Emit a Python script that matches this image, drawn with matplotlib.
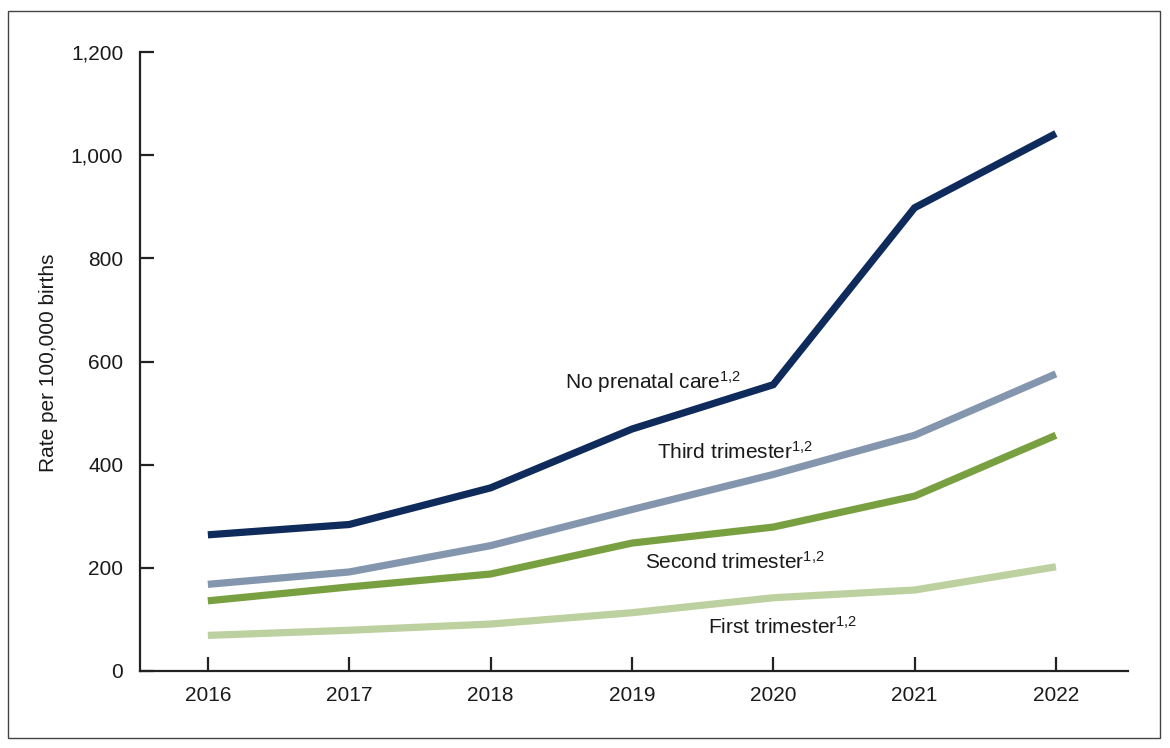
import matplotlib
matplotlib.use("Agg")
import matplotlib.pyplot as plt
from matplotlib.patches import Rectangle

plt.rcParams['font.family'] = ['Liberation Sans', 'DejaVu Sans']
plt.rcParams['mathtext.fontset'] = 'custom'
plt.rcParams['mathtext.rm'] = 'Liberation Sans'
plt.rcParams['mathtext.it'] = 'Liberation Sans'
plt.rcParams['mathtext.default'] = 'rm'

years = [2016, 2017, 2018, 2019, 2020, 2021, 2022]
no_prenatal = [264, 284, 355, 469, 555, 898, 1042]
third_tri = [168, 192, 243, 313, 381, 457, 576]
second_tri = [136, 163, 188, 248, 279, 339, 457]
first_tri = [69, 79, 91, 113, 142, 157, 202]

series_labels = ["No prenatal care$^{1{,}2}$", "Third trimester$^{1{,}2}$",
                 "Second trimester$^{1{,}2}$", "First trimester$^{1{,}2}$"]
yticks = [0, 200, 400, 600, 800, 1000, 1200]
ytick_labels = ["0", "200", "400", "600", "800", "1,000", "1,200"]

colors = ["#0f2b5b", "#8496ae", "#79a040", "#bdd0a0"]

W, H = 1170, 748
fig = plt.figure(figsize=(W / 100, H / 100), dpi=100)
ax = fig.add_axes([140 / W, 1 - 671 / H, (1128 - 140) / W, (671 - 52) / H])

for vals, c in zip([first_tri, second_tri, third_tri, no_prenatal], colors[::-1]):
    ax.plot(years, vals, color=c, lw=5.2, solid_capstyle='butt', solid_joinstyle='miter')

ax.set_xlim(2015.52, 2022.51)
ax.set_ylim(0, 1200)
ax.set_xticks(years)
ax.set_xticklabels([str(y) for y in years])
ax.set_yticks(yticks)
ax.set_yticklabels(ytick_labels)
ax.tick_params(direction='in', length=10, width=1.6, color='#222222',
               labelsize=15, labelcolor='#1a1a1a')
ax.tick_params(axis='x', pad=11)
ax.tick_params(axis='y', pad=12)
for s in ['top', 'right']:
    ax.spines[s].set_visible(False)
for s in ['left', 'bottom']:
    ax.spines[s].set_linewidth(1.6)
    ax.spines[s].set_color('#222222')

fig.text(49 / W, 1 - 363 / H, "Rate per 100,000 births", fontsize=15, color='#1a1a1a',
         rotation=90, ha='center', va='center')

label_pos = [(2018.53, 560), (2019.18, 425), (2019.09, 211), (2019.54, 85)]
for (x, y), t in zip(label_pos, series_labels):
    ax.text(x, y, t, fontsize=15, color='#1a1a1a', ha='left', va='center')

fig.patches.append(Rectangle((8 / W, 1 - 738 / H), (1160 - 8) / W, (738 - 11) / H,
                             transform=fig.transFigure, fill=False,
                             edgecolor='#444444', lw=1.0))

fig.savefig("out.png", dpi=100)
